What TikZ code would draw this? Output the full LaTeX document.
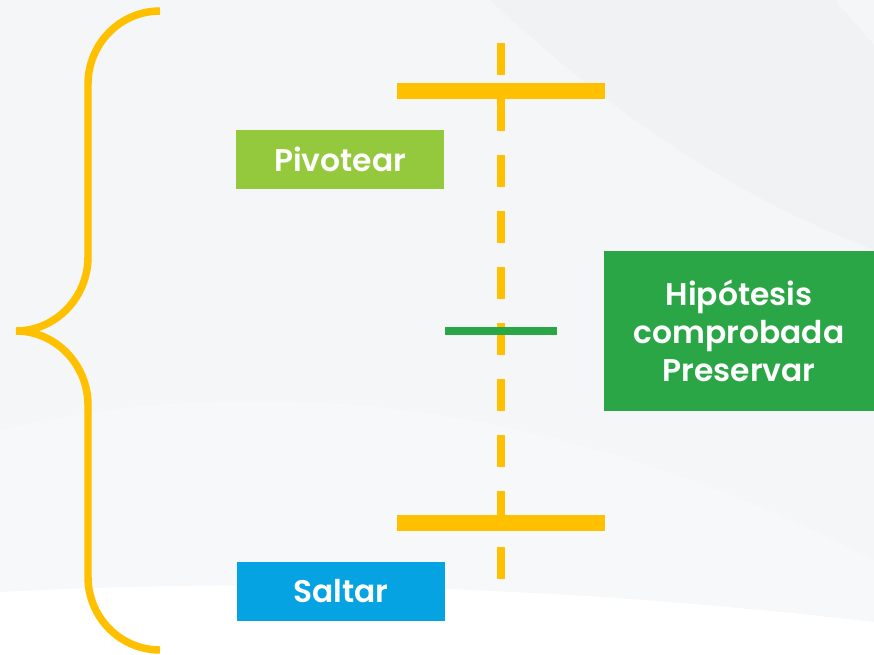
\documentclass[tikz,border=0pt]{standalone}
\usepackage{fontspec}
\setmainfont{Poppins}[BoldFont={Poppins SemiBold}]
\usepackage{tikz}
\usetikzlibrary{positioning}
\definecolor{canvas}{RGB}{245,246,248}
\definecolor{canvasdark}{RGB}{241,242,244}
\definecolor{brace}{RGB}{255,192,0}
\definecolor{pivot}{RGB}{148,201,62}
\definecolor{keep}{RGB}{43,166,70}
\definecolor{skip}{RGB}{5,163,226}

\tikzset{
    label box/.style={rectangle, inner sep=0pt, text=white,
        font=\fontsize{23.5}{28.5}\selectfont\bfseries, align=center},
    axis dash/.style={brace, line width=6pt, dash pattern=on 24pt off 18pt},
    limit bar/.style={brace, line width=12pt},
}

\begin{document}
\begin{tikzpicture}[x=0.75pt, y=-0.75pt]
    % Background
    \fill[canvas] (0,0) rectangle (874,654);
    \useasboundingbox (0,0) rectangle (874,654);
    \fill[canvasdark] (490,0) .. controls (640,140) and (760,205) .. (874,250) -- (874,0) -- cycle;
    \fill[canvas] (835,0) -- (874,45) -- (874,0) -- cycle;
    \fill[white, opacity=0.25] (0,430) .. controls (300,360) and (600,420) .. (874,560) -- (874,654) -- (0,654) -- cycle;
    \fill[white] (0,592) .. controls (300,576) and (600,590) .. (874,622) -- (874,654) -- (0,654) -- cycle;

    % Brace on the left
    \draw[brace, line width=5.6pt]
        (160,11) .. controls (120,11) and (88,44) .. (88,84) -- (88,257)
        .. controls (88,297) and (56,331) .. (16,331)
        .. controls (56,331) and (88,365) .. (88,405) -- (88,577)
        .. controls (88,617) and (120,650) .. (160,650);

    % Dashed axis with its limits
    \coordinate (axtop) at (501,43);
    \coordinate (axbot) at (501,579);
    \draw[axis dash] (axtop) -- (axbot);

    \coordinate (upperL) at (397,91);
    \coordinate (upperR) at (605,91);
    \coordinate (lowerL) at (397,523);
    \coordinate (lowerR) at (605,523);
    \coordinate (midL) at (445,331);
    \coordinate (midR) at (557,331);
    \draw[limit bar] (upperL) -- (upperR);
    \draw[limit bar] (lowerL) -- (lowerR);
    \draw[keep, line width=6pt] (midL) -- (midR);

    % Labels
    \node[label box, fill=pivot, minimum width=156pt, minimum height=44pt] (pivotear) at (340,159.5) {Pivotear};
    \node[label box, fill=keep, minimum width=202.5pt, minimum height=120pt] (preservar) at (739,331)
        {Hipótesis\\comprobada\\Preservar};
    \node[label box, fill=skip, minimum width=156pt, minimum height=44pt] (saltar) at (341,591.5) {Saltar};
\end{tikzpicture}
\end{document}
